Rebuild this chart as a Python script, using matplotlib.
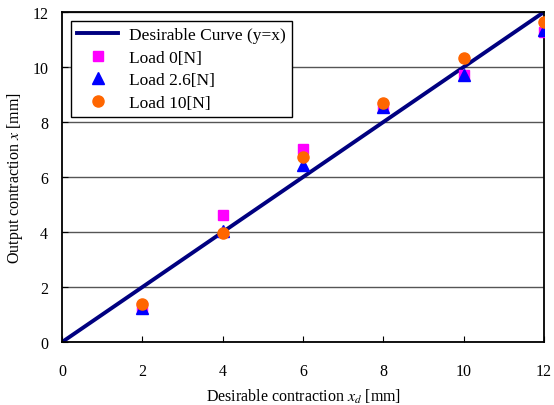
import matplotlib
matplotlib.use("Agg")
import matplotlib.pyplot as plt

plt.rcParams['font.family'] = ['Liberation Serif', 'DejaVu Serif']
plt.rcParams['mathtext.fontset'] = 'stix'

# data
x_desired = [2, 4, 6, 8, 10, 12]
load_0 = [1.27, 4.62, 7.02, 8.55, 9.72, 11.27]
load_2_6 = [1.25, 4.05, 6.42, 8.55, 9.72, 11.33]
load_10 = [1.37, 3.97, 6.72, 8.68, 10.32, 11.62]
ideal_x = [0, 12]

fig = plt.figure(figsize=(5.54, 4.06), dpi=100)
ax = fig.add_axes([0.112, 0.155, 0.870, 0.813])

ax.yaxis.grid(True, color='#555555', lw=1)
ax.set_axisbelow(True)

ax.plot(ideal_x, ideal_x, color='#000080', lw=2.8, label='Desirable Curve (y=x)', zorder=2)
ax.plot(x_desired, load_0, 's', color='#ff00ff', ms=7.5, label='Load 0[N]', zorder=3)
ax.plot(x_desired, load_2_6, '^', color='#0000ff', ms=8.5, label='Load 2.6[N]', zorder=3)
ax.plot(x_desired, load_10, 'o', color='#ff6600', ms=8, label='Load 10[N]', zorder=4)

ax.set_xlim(0, 12)
ax.set_ylim(0, 12)
ax.set_xticks(range(0, 13, 2))
ax.set_yticks(range(0, 13, 2))
ax.tick_params(direction='in', labelsize=11.5, length=4, top=False, right=False)
ax.tick_params(axis='x', pad=15)
ax.tick_params(axis='y', pad=10)
for s in ax.spines.values():
    s.set_linewidth(1.3)

ax.set_xlabel('Desirable contraction $x_d$ [mm]', fontsize=11.5, labelpad=6)
ax.set_ylabel('Output contraction $x$ [mm]', fontsize=11.5, labelpad=5)

leg = ax.legend(loc='upper left', fontsize=12.5, frameon=True, fancybox=False,
                edgecolor='black', framealpha=1, borderaxespad=0.5,
                handlelength=2.4, labelspacing=0.38, borderpad=0.35, handletextpad=0.6)
leg.get_frame().set_linewidth(1.0)

fig.savefig('out.png', dpi=100)
